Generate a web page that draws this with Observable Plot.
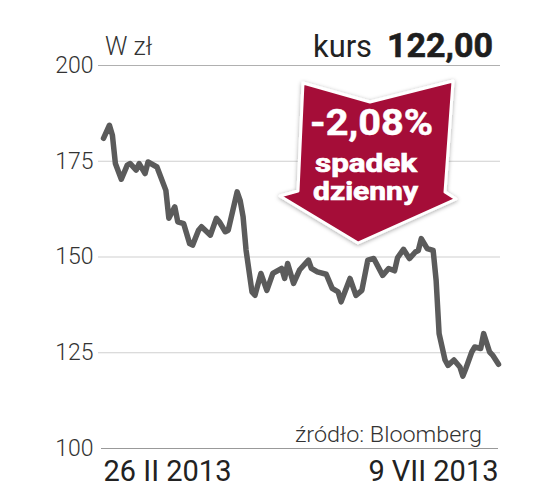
<!DOCTYPE html>
<html><head><meta charset="utf-8">
<script src="https://cdn.jsdelivr.net/npm/d3@7"></script>
<script src="https://cdn.jsdelivr.net/npm/@observablehq/plot@0.6"></script>
<style>
html,body{margin:0;padding:0;background:#fff;}
#chart{width:546px;height:502px;}
</style></head><body><div id="chart"></div>
<script>
const dates = ["2013-02-26","2013-02-28","2013-03-01","2013-03-02","2013-03-04","2013-03-06","2013-03-07","2013-03-09","2013-03-10","2013-03-12","2013-03-13","2013-03-16","2013-03-19","2013-03-20","2013-03-22","2013-03-23","2013-03-25","2013-03-27","2013-03-28","2013-03-30","2013-03-31","2013-04-03","2013-04-05","2013-04-06","2013-04-08","2013-04-09","2013-04-12","2013-04-13","2013-04-14","2013-04-15","2013-04-17","2013-04-18","2013-04-20","2013-04-22","2013-04-24","2013-04-27","2013-04-28","2013-04-29","2013-05-01","2013-05-03","2013-05-06","2013-05-07","2013-05-09","2013-05-12","2013-05-14","2013-05-16","2013-05-17","2013-05-20","2013-05-22","2013-05-24","2013-05-26","2013-05-28","2013-05-31","2013-06-02","2013-06-04","2013-06-05","2013-06-07","2013-06-09","2013-06-11","2013-06-12","2013-06-13","2013-06-15","2013-06-17","2013-06-18","2013-06-19","2013-06-21","2013-06-22","2013-06-24","2013-06-26","2013-06-27","2013-06-28","2013-06-30","2013-07-01","2013-07-03","2013-07-04","2013-07-06","2013-07-07","2013-07-09"];
const prices = [181.0,184.4,181.8,174.4,170.3,174.0,174.4,172.7,174.4,171.8,174.8,173.5,167.4,160.1,163.1,159.2,158.7,153.5,153.1,157.0,157.9,155.7,160.1,159.2,156.6,157.0,167.0,164.8,160.5,151.8,140.9,140.0,145.7,141.3,145.7,147.0,144.4,148.3,143.1,146.6,149.2,147.0,146.1,145.5,141.8,140.9,138.3,144.4,140.0,141.3,149.2,149.6,145.2,147.0,146.4,149.8,152.0,149.6,151.3,151.7,154.8,152.2,151.7,143.9,130.0,123.1,121.7,123.1,121.3,118.9,120.9,125.2,126.5,126.1,130.0,125.2,124.4,122.0];
const yTicks = [100, 125, 150, 175, 200];
const dateLabels = ["26 II 2013", "9 VII 2013"];
const unitLabel = "W zł";
const priceLabel = "kurs";
const changeLabel = "-2,08%";
const changeWords = ["spadek", "dzienny"];
const sourceLabel = "źródło: Bloomberg";

const parse = d3.utcParse("%Y-%m-%d");
const data = dates.map((d, i) => ({date: parse(d), price: prices[i]}));
const first = data[0].date, last = data[data.length - 1].date;
const lastValue = prices[prices.length - 1].toFixed(2).replace(".", ",");

function annotations() {
  const g = d3.create("svg:g");
  const f = g.append("defs").append("filter").attr("id", "sh")
    .attr("x", "-20%").attr("y", "-20%").attr("width", "140%").attr("height", "140%");
  f.append("feDropShadow").attr("dx", 0).attr("dy", 1).attr("stdDeviation", 2)
    .attr("flood-color", "#000").attr("flood-opacity", 0.35);
  g.append("polygon")
    .attr("points", "303,83 370,102 453,81 445,192 456,199 358,243 280,196 298,191")
    .attr("fill", "#a50e37").attr("stroke", "#fff").attr("stroke-width", 3)
    .attr("stroke-linejoin", "round").attr("filter", "url(#sh)");
  const t = (txt, x, y, size, weight, fill, anchor, len) => {
    const e = g.append("text").attr("x", x).attr("y", y).attr("font-size", size)
      .attr("font-weight", weight).attr("fill", fill).attr("text-anchor", anchor).text(txt);
    if (len) e.attr("textLength", len).attr("lengthAdjust", "spacingAndGlyphs");
    return e;
  };
  t(unitLabel, 105, 55, 25, 300, "#333", "start");
  t(priceLabel, 313, 57, 31, 400, "#222", "start", 59);
  t(lastValue, 387, 57, 34, 700, "#1e1e1e", "start", 106).attr("stroke", "#1e1e1e").attr("stroke-width", 0.6);
  t(changeLabel, 371.5, 135, 37, 700, "#fff", "middle", 123).attr("stroke", "#fff").attr("stroke-width", 0.5);
  t(changeWords[0], 366, 172, 26, 700, "#fff", "middle", 102).attr("stroke", "#fff").attr("stroke-width", 0.7);
  t(changeWords[1], 365.5, 200, 26, 700, "#fff", "middle", 105).attr("stroke", "#fff").attr("stroke-width", 0.7);
  t(sourceLabel, 482, 442, 22, 300, "#333", "end", 187);
  return g.node();
}

const chart = Plot.plot({
  width: 546,
  height: 502,
  marginLeft: 103,
  marginRight: 48,
  marginTop: 65,
  marginBottom: 54,
  style: {fontFamily: "Roboto, 'Open Sans', sans-serif", background: "white", overflow: "visible"},
  x: {type: "utc", domain: [first, last]},
  y: {domain: [100, 200]},
  marks: [
    Plot.ruleY(yTicks.filter(v => v > 100 && v < 200), {stroke: "#cfcfcf", strokeWidth: 1.2, insetLeft: -5, insetRight: -2}),
    Plot.ruleY([200], {stroke: "#b0b0b0", strokeWidth: 1.2, insetLeft: -5, insetRight: -2}),
    Plot.ruleY([100], {stroke: "#999", strokeWidth: 1.2, insetLeft: -2, insetRight: 0}),
    Plot.axisY(yTicks, {tickSize: 0, tickPadding: 10, fontSize: 23, fontWeight: 300, fill: "#333", label: null}),
    Plot.axisX([first], {tickSize: 0, tickPadding: 12, fontSize: 29, fill: "#222", textAnchor: "start", tickFormat: () => dateLabels[0], label: null}),
    Plot.axisX([last], {tickSize: 0, tickPadding: 12, fontSize: 29, fill: "#222", textAnchor: "end", tickFormat: () => dateLabels[1], label: null}),
    Plot.lineY(data, {x: "date", y: "price", stroke: "#5b5b5b", strokeWidth: 5.5, strokeLinejoin: "round", strokeLinecap: "round"}),
    annotations
  ]
});
document.getElementById("chart").appendChild(chart);
</script>
</body></html>
